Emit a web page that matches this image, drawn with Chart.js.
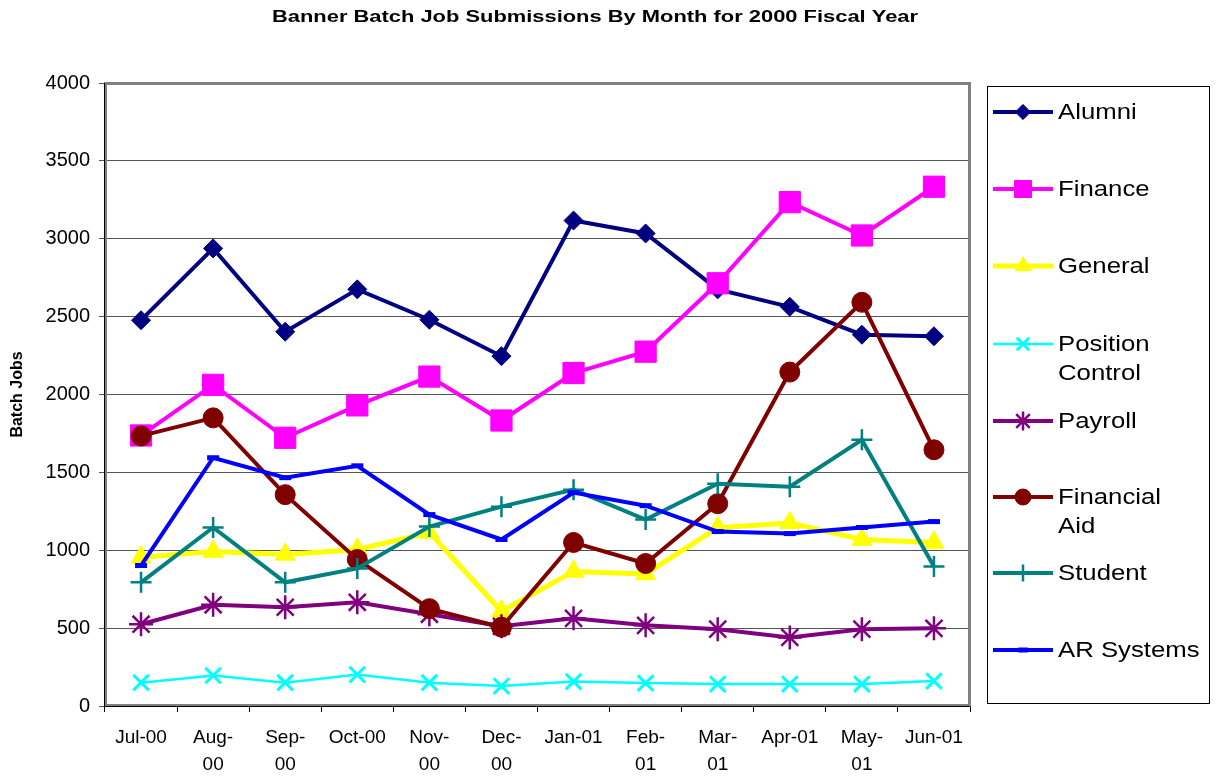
<!DOCTYPE html>
<html>
<head>
<meta charset="utf-8">
<script src="https://cdn.jsdelivr.net/npm/chart.js@4/dist/chart.umd.min.js"></script>
<style>
html,body{margin:0;padding:0;background:#fff;}
#wrap{position:relative;width:1216px;height:778px;}
</style>
</head>
<body>
<div id="wrap"><canvas id="c" width="1216" height="778"></canvas></div>
<script>
const titleText = 'Banner Batch Job Submissions By Month for 2000 Fiscal Year';
const yAxisTitle = 'Batch Jobs';
const categories = ['Jul-00', ['Aug-','00'], ['Sep-','00'], 'Oct-00', ['Nov-','00'], ['Dec-','00'], 'Jan-01', ['Feb-','01'], ['Mar-','01'], 'Apr-01', ['May-','01'], 'Jun-01'];

const alumni          = [2477, 2938, 2403, 2675, 2480, 2246, 3117, 3034, 2675, 2563, 2384, 2374];
const finance         = [1737, 2062, 1722, 1930, 2115, 1833, 2138, 2275, 2714, 3235, 3021, 3334];
const general         = [955, 992, 973, 1005, 1114, 608, 864, 848, 1145, 1175, 1069, 1050];
const positionControl = [150, 196, 150, 202, 150, 128, 157, 147, 141, 141, 141, 160];
const payroll         = [525, 650, 634, 666, 589, 512, 563, 518, 493, 440, 493, 499];
const financialAid    = [1734, 1850, 1357, 941, 625, 506, 1050, 915, 1299, 2144, 2592, 1645];
const student         = [794, 1146, 794, 883, 1152, 1280, 1389, 1197, 1427, 1408, 1709, 896];
const arSystems       = [902, 1594, 1466, 1542, 1229, 1069, 1370, 1286, 1120, 1107, 1146, 1184];

const seriesNames = [['Alumni'], ['Finance'], ['General'], ['Position','Control'], ['Payroll'], ['Financial','Aid'], ['Student'], ['AR Systems']];
const seriesData = [alumni, finance, general, positionControl, payroll, financialAid, student, arSystems];
const colors = ['#000080', '#FF00FF', '#FFFF00', '#00FFFF', '#800080', '#800000', '#008080', '#0000FF'];
const styles = ['rectRot', 'rect', 'triangle', 'crossRot', 'star', 'circle', 'cross', 'line'];
const radii = [9.5, 15, 11.5, 11, 12, 10, 10.5, 6];
const lineWidths = [4, 4, 5, 2.5, 4, 4, 4, 4];
const pointBorders = [1, 1, 1, 3, 2.5, 1, 2.5, 5];

const datasets = seriesData.map((d, i) => ({
  label: seriesNames[i].join(' '),
  data: d,
  borderColor: colors[i],
  backgroundColor: colors[i],
  borderWidth: lineWidths[i],
  pointStyle: styles[i],
  pointRadius: radii[i],
  pointHoverRadius: radii[i],
  pointBorderWidth: pointBorders[i],
  pointBackgroundColor: colors[i],
  pointBorderColor: colors[i],
  tension: 0,
  fill: false,
  order: seriesData.length - i
}));

const FONT = "Arial, 'Liberation Sans', sans-serif";

const framePlugin = {
  id: 'frame',
  beforeDatasetsDraw(chart) {
    const a = chart.chartArea, ctx = chart.ctx;
    ctx.save();
    ctx.strokeStyle = '#808080';
    ctx.lineWidth = 3;
    ctx.strokeRect(a.left + 0.5, a.top + 0.5, a.right - a.left - 1, a.bottom - a.top - 1);
    ctx.strokeStyle = '#000';
    ctx.lineWidth = 1;
    ctx.beginPath();
    ctx.moveTo(a.left - 0.5, a.top); ctx.lineTo(a.left - 0.5, a.bottom + 0.5); ctx.lineTo(a.right, a.bottom + 0.5);
    ctx.stroke();
    ctx.restore();
  }
};

const titlePlugin = {
  id: 'ctitle',
  afterDraw(chart) {
    const ctx = chart.ctx;
    ctx.save();
    ctx.font = 'bold 16px ' + FONT;
    ctx.fillStyle = '#000';
    ctx.textAlign = 'center';
    ctx.textBaseline = 'middle';
    const w = ctx.measureText(titleText).width;
    const sx = 646 / w;
    ctx.translate(595, 18);
    ctx.scale(sx, 1);
    ctx.fillText(titleText, 0, 0);
    ctx.restore();
  }
};

const legendPlugin = {
  id: 'clegend',
  afterDraw(chart) {
    const ctx = chart.ctx;
    ctx.save();
    ctx.strokeStyle = '#000';
    ctx.lineWidth = 1;
    ctx.strokeRect(987.5, 86.5, 222, 617);
    const ys = [112, 189, 266, 344, 421, 497, 573, 650];
    ys.forEach((y, i) => {
      ctx.strokeStyle = colors[i];
      ctx.fillStyle = colors[i];
      ctx.lineWidth = lineWidths[i];
      ctx.beginPath();
      ctx.moveTo(993, y); ctx.lineTo(1053, y);
      ctx.stroke();
      ctx.lineWidth = pointBorders[i];
      Chart.helpers.drawPoint(ctx, {pointStyle: styles[i], radius: radii[i] * 0.8, rotation: 0, borderWidth: pointBorders[i]}, 1023, y);
      ctx.fillStyle = '#000';
      ctx.font = '22px ' + FONT;
      ctx.textAlign = 'left';
      ctx.textBaseline = 'middle';
      seriesNames[i].forEach((line, k) => {
        ctx.save();
        ctx.translate(1058, y + 1 + k * 29);
        ctx.scale(1.17, 1);
        ctx.fillText(line, 0, 0);
        ctx.restore();
      });
    });
    ctx.restore();
  }
};

new Chart(document.getElementById('c'), {
  type: 'line',
  data: { labels: categories, datasets: datasets },
  options: {
    responsive: false,
    animation: false,
    devicePixelRatio: 1,
    layout: { padding: { top: 83, right: 246, left: 0, bottom: 0 } },
    plugins: { legend: { display: false }, title: { display: false }, tooltip: { enabled: false } },
    scales: {
      x: {
        type: 'category',
        offset: true,
        afterFit(s) { s.height = 72; },
        grid: { offset: true, drawOnChartArea: false, tickLength: 6, color: '#000', lineWidth: 1 },
        border: { display: true, color: '#000', width: 1 },
        ticks: { color: '#000', font: { family: FONT, size: 19, lineHeight: '27px' }, maxRotation: 0, minRotation: 0, autoSkip: false, padding: 12 }
      },
      y: {
        min: 0, max: 4000,
        afterFit(s) { s.width = 105; },
        grid: { color: '#555', lineWidth: 1, tickLength: 6, drawTicks: true },
        border: { display: true, color: '#000', width: 1 },
        ticks: { stepSize: 500, color: '#000', font: { family: FONT, size: 20 }, padding: 9, callback: (v) => String(v) },
        title: { display: true, text: yAxisTitle, color: '#000', font: { family: FONT, size: 16, weight: 'bold' }, padding: { top: 8, bottom: 0 } }
      }
    }
  },
  plugins: [framePlugin, titlePlugin, legendPlugin]
});
</script>
</body>
</html>
